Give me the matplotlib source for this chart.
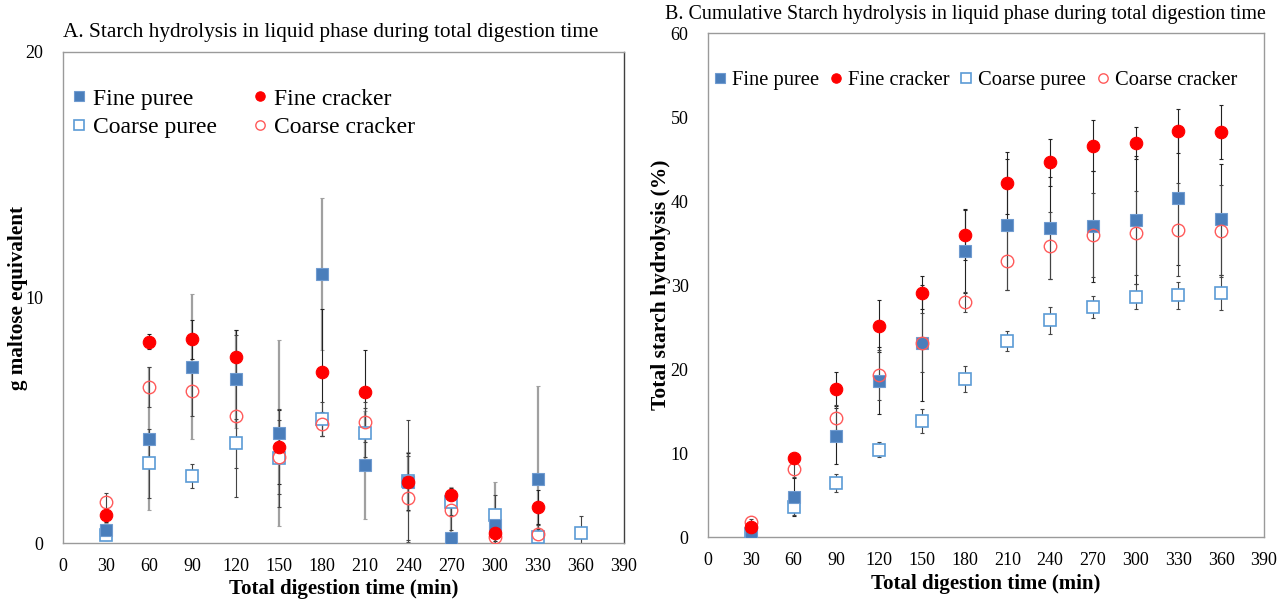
import matplotlib
matplotlib.use("Agg")
import matplotlib.pyplot as plt
import numpy as np

plt.rcParams['font.family'] = ['Liberation Serif', 'DejaVu Serif']

# ---------------- Panel A data ----------------
tA = [30, 60, 90, 120, 150, 180, 210, 240, 270, 300, 330, 360]
A_fine_puree = [0.53, 4.25, 7.18, 6.69, 4.48, 10.97, 3.18, 2.5, 0.22, 0.73, 2.6, np.nan]
A_fine_puree_err = [0.3, 2.9, 2.95, 2.0, 3.8, 3.1, 2.2, 1.2, 2.07, 1.75, 3.8, np.nan]
A_fine_cracker = [1.14, 8.2, 8.3, 7.58, 3.91, 6.95, 6.15, 2.5, 1.96, 0.39, 1.47, np.nan]
A_fine_cracker_err = [0.3, 0.3, 0.8, 1.1, 1.5, 2.6, 1.7, 1.16, 0.3, 0.3, 0.7, np.nan]
A_coarse_puree = [0.33, 3.25, 2.74, 4.06, 3.45, 5.06, 4.49, 2.53, 1.66, 1.14, 0.26, 0.42]
A_coarse_puree_err = [0.2, 1.4, 0.48, 1.0, 2.0, 0.7, 1.0, 2.5, 0.5, 0.8, 0.3, 0.68]
A_coarse_cracker = [1.68, 6.35, 6.18, 5.16, 3.5, 4.85, 4.93, 1.83, 1.33, 0.26, 0.35, np.nan]
A_coarse_cracker_err = [0.36, 0.8, 1.0, 3.3, 1.5, 0.5, 0.8, 1.7, 0.8, 0.3, 0.4, np.nan]

# ---------------- Panel B data ----------------
tB = [30, 60, 90, 120, 150, 180, 210, 240, 270, 300, 330, 360]
B_fine_puree = [0.5, 4.77, 12.0, 18.6, 23.15, 34.0, 37.2, 36.8, 37.0, 37.7, 40.4, 37.8]
B_fine_puree_err = [0.3, 2.3, 3.3, 4.0, 6.9, 4.9, 7.8, 6.1, 6.6, 7.6, 8.0, 6.6]
B_fine_cracker = [1.23, 9.36, 17.6, 25.1, 29.1, 36.0, 42.1, 44.6, 46.6, 46.9, 48.3, 48.2]
B_fine_cracker_err = [0.4, 0.5, 2.0, 3.1, 2.0, 3.0, 3.7, 2.8, 3.0, 1.9, 2.6, 3.2]
B_coarse_puree = [0.3, 3.6, 6.4, 10.4, 13.8, 18.8, 23.3, 25.8, 27.4, 28.6, 28.8, 29.1]
B_coarse_puree_err = [0.2, 1.0, 1.1, 0.9, 1.4, 1.5, 1.2, 1.6, 1.3, 1.5, 1.6, 2.1]
B_coarse_cracker = [1.8, 8.1, 14.2, 19.3, 23.15, 28.0, 32.9, 34.7, 36.0, 36.2, 36.6, 36.4]
B_coarse_cracker_err = [0.4, 1.0, 1.5, 3.0, 3.5, 1.2, 3.5, 4.0, 5.0, 5.0, 5.5, 5.5]

labels = ['Fine puree', 'Fine cracker', 'Coarse puree', 'Coarse cracker']
c_fp = '#4a7ebb'
c_fc = '#ff0000'
c_cp = '#5b9bd5'
c_cc = '#ff5a5a'
spine_col = '#9a9a9a'

fig = plt.figure(figsize=(12.81, 6.02), dpi=100)
ax1 = fig.add_axes([63/1281, 1-543/602, (624-63)/1281, (543-52)/602])
ax2 = fig.add_axes([708/1281, 1-537/602, (1264-708)/1281, (537-33)/602])


def draw(ax, t, fp, fpe, fc, fce, cp, cpe, cc, cce, fp_err_col, fp_err_lw, ms):
    ax.errorbar(t, fp, yerr=fpe, fmt='none', ecolor=fp_err_col,
                elinewidth=fp_err_lw, capsize=1.5, capthick=0.8, zorder=1)
    ax.errorbar(t, fc, yerr=fce, fmt='none', ecolor='#222222', elinewidth=0.8,
                capsize=1.5, capthick=0.8, zorder=1)
    ax.errorbar(t, cp, yerr=cpe, fmt='none', ecolor='#444444', elinewidth=0.8,
                capsize=1.5, capthick=0.8, zorder=1)
    ax.errorbar(t, cc, yerr=cce, fmt='none', ecolor='#444444', elinewidth=0.8,
                capsize=1.5, capthick=0.8, zorder=1)
    h_cp, = ax.plot(t, cp, 's', ms=ms, mfc='white', mec=c_cp, mew=1.2,
                    ls='none', label=labels[2], zorder=3)
    h_fp, = ax.plot(t, fp, 's', ms=ms, mfc=c_fp, mec='#6f9bd0', mew=0.8,
                    ls='none', label=labels[0], zorder=4)
    h_cc, = ax.plot(t, cc, 'o', ms=ms, mfc='none', mec=c_cc, mew=1.0,
                    ls='none', label=labels[3], zorder=5)
    h_fc, = ax.plot(t, fc, 'o', ms=ms, mfc=c_fc, mec=c_fc, mew=0.8,
                    ls='none', label=labels[1], zorder=6)
    return h_fp, h_fc, h_cp, h_cc


hA = draw(ax1, tA, A_fine_puree, A_fine_puree_err, A_fine_cracker, A_fine_cracker_err,
          A_coarse_puree, A_coarse_puree_err, A_coarse_cracker, A_coarse_cracker_err,
          '#a0a0a0', 1.6, 9)
hB = draw(ax2, tB, B_fine_puree, B_fine_puree_err, B_fine_cracker, B_fine_cracker_err,
          B_coarse_puree, B_coarse_puree_err, B_coarse_cracker, B_coarse_cracker_err,
          '#222222', 0.8, 9)

xticks = list(range(0, 391, 30))
for ax in (ax1, ax2):
    ax.set_xlim(0, 390)
    ax.set_xticks(xticks)
    ax.tick_params(axis='both', length=0, labelsize=13)
    ax.tick_params(axis='x', pad=11)
    ax.tick_params(axis='y', pad=14)
    for s in ax.spines.values():
        s.set_color(spine_col)
        s.set_linewidth(1.0)
    ax.set_xlabel('Total digestion time (min)', fontsize=15, fontweight='bold')

ax1.set_ylim(0, 20)
ax1.set_yticks([0, 10, 20])
ax1.spines['right'].set_color('#404040')
ax1.set_ylabel('g maltose equivalent', fontsize=15.2, fontweight='bold')
ax1.yaxis.set_label_coords((28-63)/561, 0.5)
ax1.xaxis.set_label_coords(0.5, -(579-543)/491)

ax2.set_ylim(0, 60)
ax2.set_yticks(range(0, 61, 10))
ax2.set_ylabel('Total starch hydrolysis (%)', fontsize=15.5, fontweight='bold')
ax2.yaxis.set_label_coords((671-708)/556, 0.5)
ax2.xaxis.set_label_coords(0.5, -(574-537)/504)

fig.text(63/1281, 1-32/602, 'A. Starch hydrolysis in liquid phase during total digestion time',
         ha='left', va='center', fontsize=15.3)
fig.text(665/1281, 1-15/602, 'B. Cumulative Starch hydrolysis in liquid phase during total digestion time',
         ha='left', va='center', fontsize=14.4)

# legends
ax1.legend([hA[0], hA[2], hA[1], hA[3]], [labels[0], labels[2], labels[1], labels[3]],
           ncol=2, loc='upper left', bbox_to_anchor=(-0.018, 0.965), frameon=False,
           fontsize=17, handlelength=0.6, handletextpad=0.3, columnspacing=1.5,
           labelspacing=0.3, markerscale=0.75, borderaxespad=0.4)
ax2.legend(list(hB), labels, ncol=4, loc='upper left', bbox_to_anchor=(-0.012, 0.95),
           frameon=False, fontsize=14.8, handlelength=0.6, handletextpad=0.3,
           columnspacing=0.5, markerscale=0.75, borderaxespad=0.2)

fig.savefig('out.png', dpi=100)
